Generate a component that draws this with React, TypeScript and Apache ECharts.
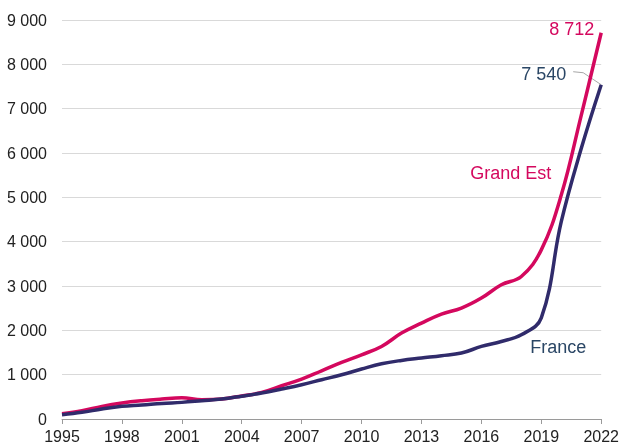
import React, { useEffect, useRef } from "react";
import * as echarts from "echarts";

const years = [
  "1995", "1996", "1997", "1998", "1999", "2000", "2001", "2002", "2003", "2004",
  "2005", "2006", "2007", "2008", "2009", "2010", "2011", "2012", "2013", "2014",
  "2015", "2016", "2017", "2018", "2019", "2020", "2021", "2022",
];

const grandEst = [
  120, 187, 285, 360, 412, 450, 480, 435, 450, 520,
  600, 750, 900, 1088, 1276, 1449, 1636, 1938, 2163, 2366,
  2501, 2727, 3027, 3214, 3815, 5050, 6850, 8712,
];

const france = [
  97, 150, 225, 285, 315, 352, 375, 412, 450, 515,
  586, 676, 773, 886, 998, 1127, 1246, 1321, 1375, 1427,
  1487, 1637, 1749, 1900, 2280, 4450, 6100, 7540,
];

const yTicks = { min: 0, max: 9000, interval: 1000 };

const PINK = "#d4085e";
const NAVY = "#302b6b";
const SLATE = "#2a4665";
const FONT = '"Liberation Sans", Arial, sans-serif';

const fmt = (v: number) => String(v).replace(/\B(?=(\d{3})+(?!\d))/g, " ");

export default function App() {
  const ref = useRef<HTMLDivElement>(null);
  useEffect(() => {
    if (!ref.current) return;
    const chart = echarts.init(ref.current, undefined, { renderer: "svg" });
    chart.setOption({
      animation: false,
      grid: { left: 62, right: 19, top: 20, bottom: 27, containLabel: false },
      xAxis: {
        type: "category",
        data: years,
        boundaryGap: false,
        axisLine: { lineStyle: { color: "#9a9a9a", width: 1 } },
        axisTick: { interval: 2, length: 5, lineStyle: { color: "#9a9a9a" } },
        axisLabel: {
          interval: 2,
          margin: 9,
          color: "#222",
          fontSize: 16,
          fontFamily: FONT,
        },
        splitLine: { show: false },
      },
      yAxis: {
        type: "value",
        min: yTicks.min,
        max: yTicks.max,
        interval: yTicks.interval,
        axisLine: { show: false },
        axisTick: { show: false },
        axisLabel: {
          margin: 15,
          color: "#222",
          fontSize: 16,
          fontFamily: FONT,
          formatter: (v: number) => fmt(v),
        },
        splitLine: { lineStyle: { color: "#d9d9d9", width: 1 } },
      },
      series: [
        {
          name: "Grand Est",
          type: "line",
          data: grandEst,
          smooth: 0.4,
          showSymbol: false,
          symbol: "none",
          lineStyle: { color: PINK, width: 3.5 },
          itemStyle: { color: PINK },
        },
        {
          name: "France",
          type: "line",
          data: france,
          smooth: 0.4,
          showSymbol: false,
          symbol: "none",
          lineStyle: { color: NAVY, width: 3.5 },
          itemStyle: { color: NAVY },
        },
      ],
    });

    const last = years.length - 1;
    const pGE = chart.convertToPixel({ seriesIndex: 0 }, [last, grandEst[last]]) as number[];
    const pFR = chart.convertToPixel({ seriesIndex: 1 }, [last, france[last]]) as number[];
    const pGELabel = chart.convertToPixel({ seriesIndex: 0 }, [24, 5550]) as number[];
    const pFRLabel = chart.convertToPixel({ seriesIndex: 1 }, [23, 1630]) as number[];

    const txt = (text: string, x: number, y: number, fill: string, align: string) => ({
      type: "text",
      x,
      y,
      silent: true,
      style: {
        text,
        fill,
        font: `18px ${FONT}`,
        align,
        verticalAlign: "middle",
        textAlign: align,
        textVerticalAlign: "middle",
      },
    });

    chart.setOption({
      graphic: [
        txt(fmt(grandEst[last]), pGE[0] - 7, pGE[1] - 4, PINK, "right"),
        txt(fmt(france[last]), pFR[0] - 35, pFR[1] - 11, SLATE, "right"),
        {
          type: "polyline",
          silent: true,
          shape: {
            points: [
              [pFR[0] - 28, pFR[1] - 13],
              [pFR[0] - 18, pFR[1] - 12],
              [pFR[0], pFR[1]],
            ],
          },
          style: { stroke: "#a6a6a6", lineWidth: 1, fill: null },
        },
        txt("Grand Est", pGELabel[0] + 10, pGELabel[1], PINK, "right"),
        txt("France", pFRLabel[0] + 9, pFRLabel[1], SLATE, "left"),
      ],
    });

    return () => chart.dispose();
  }, []);
  return (
    <div
      ref={ref}
      style={{ position: "fixed", left: 0, top: 0, width: 622, height: 446 }}
    />
  );
}
